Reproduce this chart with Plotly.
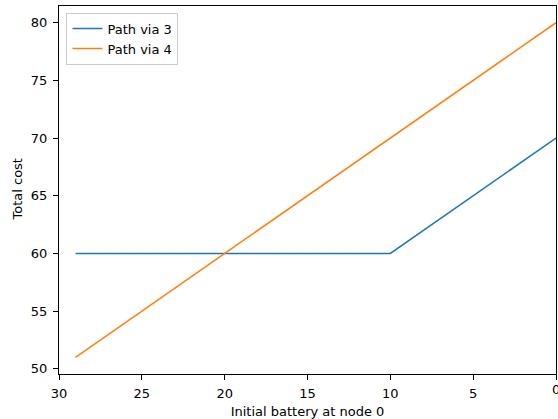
import plotly.graph_objects as go

# Data
battery_via3 = [29, 10, 0]
cost_via3 = [60, 60, 70]
battery_via4 = [29, 0]
cost_via4 = [51, 80]
x_ticks = [30, 25, 20, 15, 10, 5, 0]
y_ticks = [50, 55, 60, 65, 70, 75, 80]

fig = go.Figure()
fig.add_trace(go.Scatter(x=battery_via3, y=cost_via3, mode="lines", name="Path via 3",
                         line=dict(color="#1f77b4", width=1.5)))
fig.add_trace(go.Scatter(x=battery_via4, y=cost_via4, mode="lines", name="Path via 4",
                         line=dict(color="#ff7f0e", width=1.5)))

axis_common = dict(showline=True, linecolor="black", linewidth=1, mirror=True,
                   ticks="outside", ticklen=5, tickwidth=1, tickcolor="black",
                   showgrid=False, zeroline=False, automargin=False,
                   tickfont=dict(family="DejaVu Sans", size=13, color="black"))

fig.update_layout(
    width=558, height=419,
    margin=dict(l=59, r=2, t=6, b=45),
    plot_bgcolor="white", paper_bgcolor="white",
    font=dict(family="DejaVu Sans", size=13, color="black"),
    xaxis=dict(range=[30, 0], tickvals=x_ticks, ticklabelstandoff=2,
               title=dict(text="Initial battery at node 0", font=dict(size=13)),
               **axis_common),
    yaxis=dict(range=[49.55, 81.45], tickvals=y_ticks, ticklabelstandoff=3,
               **axis_common),
    legend=dict(x=0.015, y=0.982, xanchor="left", yanchor="top",
                bgcolor="rgba(255,255,255,0.8)", bordercolor="#cccccc", borderwidth=1,
                font=dict(size=13), tracegroupgap=0),
    showlegend=True,
)

# y-axis title placed like matplotlib's
fig.add_annotation(text="Total cost", xref="paper", yref="paper", x=0, y=0.5,
                   xanchor="right", yanchor="middle", xshift=-33, textangle=-90,
                   showarrow=False, font=dict(size=13, color="black"))

# last x tick label (partly beyond the page edge, as in the reference)
fig.add_annotation(text=str(x_ticks[-1]), xref="x", yref="paper", x=x_ticks[-1], y=0,
                   xanchor="center", yanchor="top", yshift=-6, showarrow=False,
                   font=dict(size=13, color="black"))

fig.write_html("out.html", config={"displayModeBar": False},
               post_script="document.body.style.margin='0px';document.body.style.overflow='hidden';")
